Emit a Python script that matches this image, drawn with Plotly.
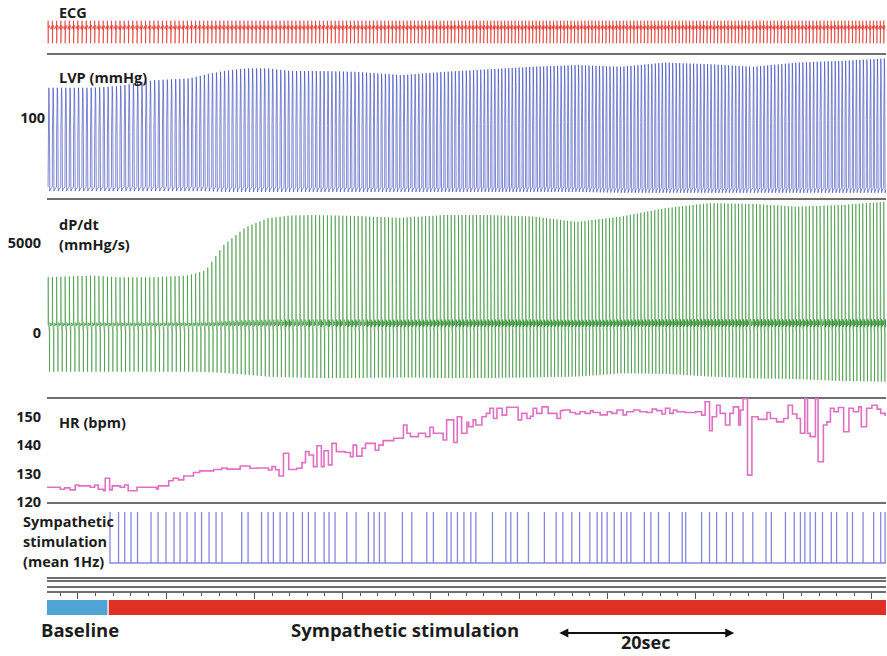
import numpy as np
import plotly.graph_objects as go

# ---------------- data ----------------
T_END = 95.1  # seconds shown

# heart rate steps (bpm) : start time of each step (s) and value
hr_t = [0, 1.5, 2.0, 2.6, 3.2, 3.6, 4.9, 5.4, 5.8, 6.4,
        6.6, 7.1, 7.4, 8.3, 8.8, 9.2, 10.2, 12.4, 12.6, 13.8,
        14.3, 14.9, 15.5, 16.6, 17.3, 18.9, 19.8, 20.4, 21.9, 23.0,
        23.8, 25.1, 25.5, 25.9, 26.3, 26.8, 27.4, 28.3, 28.9, 29.3,
        29.7, 30.2, 30.6, 31.1, 31.4, 31.9, 32.3, 32.8, 33.8, 34.4,
        34.7, 35.1, 35.7, 36.1, 37.2, 37.6, 38.1, 39.3, 40.4, 40.8,
        41.2, 42.1, 42.9, 43.4, 43.8, 44.9, 45.3, 46.1, 46.5, 47.0,
        47.6, 47.8, 48.3, 48.6, 49.3, 49.8, 50.2, 50.6, 51.0, 51.6,
        52.1, 53.4, 53.8, 54.4, 54.8, 55.1, 55.5, 56.1, 56.8, 57.8,
        58.2, 58.5, 59.3, 59.9, 60.4, 61.0, 61.6, 61.9, 62.7, 63.5,
        64.0, 64.6, 65.3, 65.7, 66.5, 67.2, 68.0, 68.6, 69.1, 69.7,
        70.1, 70.6, 71.0, 71.4, 72.3, 73.5, 74.2, 74.6, 75.1, 75.4,
        75.9, 76.3, 76.9, 77.4, 77.8, 78.4, 78.6, 78.9, 79.4, 79.9,
        80.6, 81.6, 82.0, 82.7, 83.5, 84.0, 84.5, 85.0, 85.4, 85.9,
        86.2, 86.5, 87.1, 87.4, 88.0, 88.4, 88.8, 89.2, 89.7, 90.3,
        90.9, 91.4, 92.0, 92.3, 92.9, 93.5, 94.1, 94.5, 95.0]
hr_v = [125.2, 124.5, 125.0, 124.3, 126.0, 125.7, 125.2, 126.0, 124.5, 124.0,
        128.4, 124.3, 125.7, 125.2, 126.0, 124.0, 125.2, 124.6, 125.7, 127.5,
        128.4, 127.8, 129.2, 130.4, 131.0, 131.5, 132.0, 131.6, 132.7, 131.9,
        132.0, 131.3, 132.5, 131.4, 129.2, 137.2, 131.5, 131.9, 133.9, 137.8,
        136.6, 132.5, 139.9, 132.5, 138.1, 133.1, 140.7, 137.8, 137.5, 136.0,
        140.1, 136.2, 139.0, 140.7, 138.3, 140.1, 141.7, 142.5, 147.2, 144.3,
        143.1, 144.3, 143.1, 146.4, 144.3, 141.9, 149.0, 141.0, 150.1, 144.3,
        148.2, 146.6, 149.0, 147.2, 150.1, 151.3, 153.1, 149.5, 153.1, 150.7,
        153.5, 149.0, 151.3, 149.5, 150.3, 153.1, 151.3, 153.6, 151.3, 149.5,
        152.3, 152.5, 151.6, 151.1, 151.9, 151.3, 152.3, 151.6, 150.8, 151.9,
        151.3, 152.5, 150.8, 151.9, 152.5, 151.9, 151.6, 152.8, 152.3, 151.1,
        153.1, 151.3, 152.5, 151.9, 151.6, 151.9, 150.7, 155.4, 145.2, 150.1,
        154.2, 151.3, 147.2, 151.3, 153.6, 147.2, 152.5, 156.5, 129.5, 150.1,
        149.2, 151.6, 149.5, 148.3, 149.5, 154.2, 151.1, 149.5, 144.3, 156.5,
        144.3, 143.1, 156.5, 134.2, 147.2, 148.3, 153.1, 151.9, 153.4, 144.8,
        153.1, 151.9, 153.6, 146.6, 153.1, 154.2, 152.8, 151.3, 150.7]

# sympathetic stimulation pulse times (s)
stim_t = [7.14, 8.11, 8.81, 9.52, 10.26, 11.79, 12.59, 13.49, 14.40, 15.08,
          15.87, 16.78, 17.52, 18.37, 19.16, 19.84, 22.07, 22.79, 24.32, 25.06,
          25.66, 26.42, 27.18, 27.93, 28.95, 29.63, 30.39, 31.41, 31.97, 32.65,
          33.98, 35.03, 36.43, 37.07, 37.68, 38.32, 40.28, 41.35, 43.05, 43.80,
          45.32, 45.80, 46.52, 47.26, 48.04, 48.61, 50.49, 52.01, 52.57, 53.32,
          54.57, 56.38, 57.71, 58.47, 59.49, 60.37, 61.53, 62.36, 62.89, 63.49,
          64.29, 65.10, 65.72, 66.18, 67.71, 68.45, 69.31, 70.54, 72.0, 72.4,
          74.2, 75.1, 75.9, 77.0, 77.7, 78.9, 80.0, 81.5, 82.1, 83.7,
          84.7, 85.4, 85.9, 86.5, 87.1, 87.9, 88.9, 89.5, 90.7, 91.3,
          92.5, 93.7, 94.5, 95.0]

# beat-by-beat envelopes read at these times (s)
env_t = [0, 5, 8, 12, 16, 18, 20, 22.5, 25, 27.5, 30, 35, 40, 45, 50, 55, 60, 65, 70, 75, 80, 85, 90, 95.1]
lvp_peak = [136, 136, 138, 145, 147, 152, 156, 159, 159, 156, 156, 155, 151, 155, 158, 161, 163, 161, 166, 164, 161, 166, 168, 171]
lvp_min = [13, 13, 13, 13, 13, 13, 12, 12, 12, 12, 12, 12, 12, 12, 12, 12, 12, 11, 11, 11, 11, 11, 11, 11]
dpdt_max = [3100, 3200, 3100, 3100, 3200, 3500, 4900, 5900, 6400, 6550, 6580, 6530, 6420, 6580, 6580, 6500, 6200, 6490, 6960, 7240, 7200, 7050, 7140, 7330]
dpdt_min = [-2180, -2180, -2180, -2180, -2180, -2200, -2250, -2350, -2460, -2500, -2530, -2530, -2500, -2530, -2530, -2500, -2450, -2270, -2300, -2450, -2550, -2600, -2700, -2740]
dpdt_base = 430
ecg_r = 0.38
ecg_s = -0.75

phase_names = ["Baseline", "Sympathetic stimulation"]
phase_start = [0.0, 7.0]
phase_end = [6.85, 95.1]

# ---------------- beat shapes (one normalised cardiac cycle) ----------------
lvp_ph = [0, 0.03, 0.06, 0.12, 0.18, 0.24, 0.30, 0.35, 0.40, 0.47, 0.6, 0.8, 0.97]
lvp_sh = [0.04, 0.55, 0.88, 0.97, 1.0, 0.96, 0.85, 0.45, 0.0, 0.01, 0.02, 0.03, 0.04]
dp_ph = [0, 0.015, 0.03, 0.045, 0.07, 0.12, 0.2, 0.3, 0.34, 0.37, 0.40, 0.45, 0.55, 0.65, 0.8, 0.9]
dp_sh = [0, 0.35, 1.0, 0.15, 0.05, 0.0, -0.05, -0.15, -1.0, -0.2, 0.05, -0.04, 0.04, -0.02, 0.03, 0.0]
ecg_ph = [0, 0.01, 0.02, 0.035, 0.05, 0.15, 0.25, 0.35, 0.45, 0.7, 0.78, 0.86, 0.95]
ecg_sh = [0, -0.08, 1.0, 1.0, 0.0, 0.05, 0.15, 0.1, 0.0, 0.0, 0.1, 0.0, 0.0]
ecg_kind = [0, 0, 1, 2, 0, 0, 0, 0, 0, 0, 0, 0, 0]


def hr_at(t):
    i = int(np.searchsorted(hr_t, t, side="right")) - 1
    return hr_v[max(i, 0)]


beats = []
b = 0.12
while b < T_END:
    beats.append((b, 60.0 / hr_at(b)))
    b += 60.0 / hr_at(b)

lx, ly, dx, dy, ex, ey = [], [], [], [], [], []
for b0, per in beats:
    pk = np.interp(b0, env_t, lvp_peak)
    mn = np.interp(b0, env_t, lvp_min)
    mx = np.interp(b0, env_t, dpdt_max)
    dm = np.interp(b0, env_t, dpdt_min)
    for p, s in zip(lvp_ph, lvp_sh):
        lx.append(b0 + p * per)
        ly.append(mn + (pk - mn) * s)
    for p, s in zip(dp_ph, dp_sh):
        dx.append(b0 + p * per)
        dy.append(dpdt_base + s * ((mx - dpdt_base) if s > 0 else (dpdt_base - dm)))
    for p, s, k in zip(ecg_ph, ecg_sh, ecg_kind):
        ex.append(b0 + p * per)
        ey.append(ecg_r if k == 1 else (ecg_s if k == 2 else s))


def clip(xs, ys):
    xs = np.array(xs)
    ys = np.array(ys)
    m = xs <= T_END
    return xs[m], ys[m]


lx, ly = clip(lx, ly)
dx, dy = clip(dx, dy)
ex, ey = clip(ex, ey)

sx, sy = [stim_t[0]], [0]
for s in stim_t:
    sx += [s, s, s]
    sy += [0, 1, 0]
sx.append(T_END)
sy.append(0)

# ---------------- figure ----------------
W, H = 887, 656
XL, XR = 47, 886


def py(px):
    return 1 - px / H


xdom = [XL / W, XR / W]
FONT = "Open Sans"
TXT = "#1c1c1c"
LINEC = "#6f6f6f"

fig = go.Figure()
fig.add_trace(go.Scatter(x=ex, y=ey, mode="lines", line=dict(color="rgba(228,40,30,0.62)", width=1),
                         xaxis="x", yaxis="y", hoverinfo="skip"))
fig.add_trace(go.Scatter(x=lx, y=ly, mode="lines", line=dict(color="rgba(50,65,185,0.62)", width=1),
                         xaxis="x2", yaxis="y2", hoverinfo="skip"))
fig.add_trace(go.Scatter(x=dx, y=dy, mode="lines", line=dict(color="rgba(35,135,35,0.55)", width=1),
                         xaxis="x3", yaxis="y3", hoverinfo="skip"))
fig.add_trace(go.Scatter(x=hr_t + [T_END], y=hr_v + [hr_v[-1]], mode="lines",
                         line=dict(color="#e070c2", width=1.6, shape="hv"),
                         xaxis="x4", yaxis="y4", hoverinfo="skip"))
fig.add_trace(go.Scatter(x=sx, y=sy, mode="lines", line=dict(color="rgba(105,105,215,0.8)", width=1.3),
                         xaxis="x5", yaxis="y5", hoverinfo="skip"))
fig.add_trace(go.Scatter(x=[None], y=[None], xaxis="x6", yaxis="y6", hoverinfo="skip"))
fig.add_trace(go.Scatter(x=[None], y=[None], xaxis="x7", yaxis="y7", hoverinfo="skip"))
fig.add_trace(go.Bar(y=["p", "p"], x=[e - s for s, e in zip(phase_start, phase_end)], base=phase_start,
                     orientation="h", width=1, marker=dict(color=["#4fa4d4", "#de3123"], line=dict(width=0)),
                     name="phase", text=phase_names, textposition="none",
                     xaxis="x8", yaxis="y8", hoverinfo="skip"))

base_x = dict(domain=xdom, range=[0, T_END], showgrid=False, zeroline=False, showticklabels=False,
              ticks="", showline=True, linecolor=LINEC, linewidth=2.4, fixedrange=True)
base_y = dict(showgrid=False, zeroline=False, showline=False, ticks="", fixedrange=True,
              tickfont=dict(family=FONT, size=14.5, color=TXT, weight="bold"))

lay = dict(
    width=W, height=H, margin=dict(l=0, r=0, t=0, b=0),
    paper_bgcolor="white", plot_bgcolor="rgba(0,0,0,0)",
    showlegend=False, hovermode=False, template="none", barmode="overlay",
)
lay["xaxis"] = dict(base_x, anchor="y")
lay["yaxis"] = dict(base_y, domain=[py(53), 1], range=[-1.235, 1.415], showticklabels=False)
lay["xaxis2"] = dict(base_x, anchor="y2", matches="x")
lay["yaxis2"] = dict(base_y, domain=[py(198), py(53)], range=[4.76, 177.4], tickvals=[100],
                     ticklabelstandoff=1)
lay["xaxis3"] = dict(base_x, anchor="y3", matches="x")
lay["yaxis3"] = dict(base_y, domain=[py(397), py(198)], range=[-3596, 7534], tickvals=[0, 5000],
                     ticklabelstandoff=5)
lay["xaxis4"] = dict(base_x, anchor="y4", matches="x")
lay["yaxis4"] = dict(base_y, domain=[py(502), py(397)], range=[120, 157.1], tickvals=[120, 130, 140, 150],
                     ticklabelstandoff=5)
lay["xaxis5"] = dict(base_x, anchor="y5", matches="x")
lay["yaxis5"] = dict(base_y, domain=[py(577), py(502)], range=[-0.275, 1.196], showticklabels=False)
lay["xaxis6"] = dict(base_x, anchor="y6", matches="x", mirror=True)
lay["yaxis6"] = dict(base_y, domain=[py(586), py(581.5)], range=[0, 1], showticklabels=False)
lay["xaxis7"] = dict(base_x, anchor="y7", matches="x", ticks="outside", ticklen=6, tickwidth=1,
                     tickcolor="#555", tick0=3.51, dtick=10,
                     minor=dict(ticks="outside", ticklen=3, tickwidth=1, tickcolor="#555", tick0=3.51, dtick=2))
lay["yaxis7"] = dict(base_y, domain=[py(590.5), py(589)], range=[0, 1], showticklabels=False)
lay["xaxis8"] = dict(base_x, anchor="y8", matches="x", showline=False)
lay["yaxis8"] = dict(base_y, domain=[py(615), py(600)], range=[-0.5, 0.5], showticklabels=False)
fig.update_layout(**lay)


def label(text, x, y, size=14.5, xanchor="left", xref="paper", yref="paper"):
    fig.add_annotation(text=text, x=x, y=y, xref=xref, yref=yref, xanchor=xanchor, yanchor="middle",
                       showarrow=False, font=dict(family=FONT, size=size, color=TXT, weight="bold"))


label("ECG", 57 / W, py(13))
label("LVP (mmHg)", 57 / W, py(77))
label("dP/dt", 57 / W, py(224))
label("(mmHg/s)", 57 / W, py(244))
label("HR (bpm)", 57 / W, py(422))
label("Sympathetic", 21 / W, py(521))
label("stimulation", 21 / W, py(541))
label("(mean 1Hz)", 21 / W, py(561))
label("0", 48 / W, 0, xanchor="right", yref="y2")
label("Baseline", 80 / W, py(629), size=18.5, xanchor="center")
label("Sympathetic stimulation", 404.5 / W, py(629), size=18.5, xanchor="center")
label("20sec", 645 / W, py(642), size=18, xanchor="center")

# 20-second scale bar
fig.add_annotation(x=77.9, y=py(633), xref="x", yref="paper", ax=57.9, ay=0, axref="x", ayref="pixel",
                   text="", showarrow=True, arrowhead=2, arrowside="end+start", arrowsize=1,
                   arrowwidth=1.8, arrowcolor="#111", standoff=0, startstandoff=0)

fig.write_html("out.html")
